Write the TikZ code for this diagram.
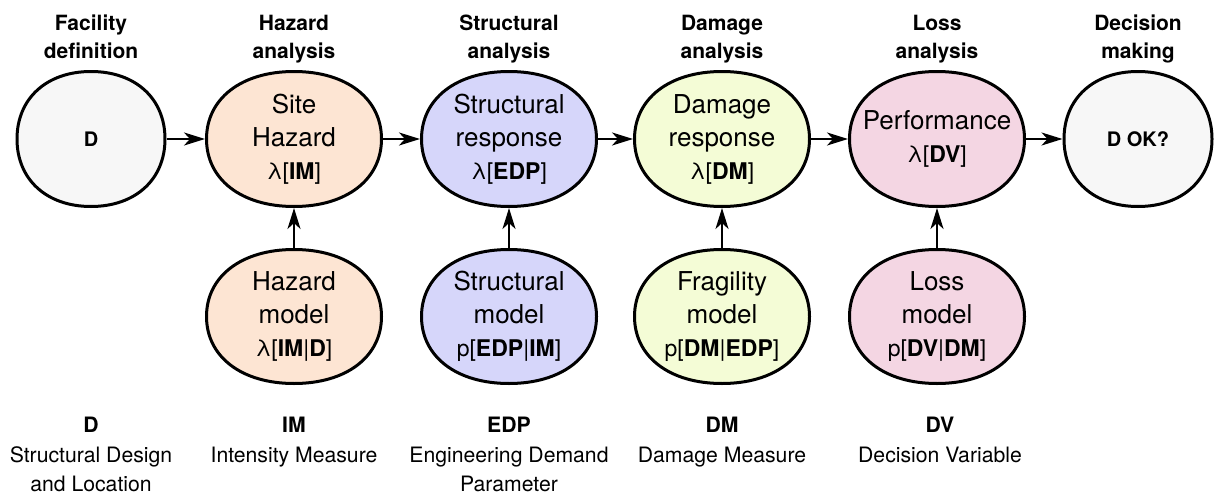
\documentclass[tikz,border=0pt]{standalone}
\usepackage{fontspec}
\setmainfont{TeX Gyre Heros}
\usetikzlibrary{arrows.meta,calc,backgrounds}
\definecolor{grayfill}{RGB}{247,247,247}
\definecolor{hazfill}{RGB}{253,229,211}
\definecolor{strfill}{RGB}{214,214,250}
\definecolor{dmgfill}{RGB}{244,252,214}
\definecolor{lossfill}{RGB}{244,214,227}
\newcommand\fml[1]{{\fontsize{23}{33}\selectfont #1}}
\newcommand\bk{0.6}
% rounded (superellipse-like) outline through the four side midpoints of a node
\newcommand\blob[2]{%
  \draw[blobline, fill=#2]
  (#1.east) .. controls ($(#1.east)!\bk!(#1.north east)$) and ($(#1.north)!\bk!(#1.north east)$) .. (#1.north)
  .. controls ($(#1.north)!\bk!(#1.north west)$) and ($(#1.west)!\bk!(#1.north west)$) .. (#1.west)
  .. controls ($(#1.west)!\bk!(#1.south west)$) and ($(#1.south)!\bk!(#1.south west)$) .. (#1.south)
  .. controls ($(#1.south)!\bk!(#1.south east)$) and ($(#1.east)!\bk!(#1.south east)$) .. (#1.east) -- cycle;}
\begin{document}
\begin{tikzpicture}[x=1pt,y=-1pt,
  blobline/.style={draw=black, line width=3pt, line join=round},
  stage/.style={rectangle, inner sep=0pt, outer sep=0pt, align=center,
    font=\fontsize{26}{33}\selectfont},
  topnode/.style={stage, minimum width=175pt, minimum height=135pt},
  botnode/.style={stage, minimum width=175pt, minimum height=134pt},
  termnode/.style={stage, minimum width=148pt, minimum height=135pt,
    font=\bfseries\fontsize{20}{24}\selectfont},
  head/.style={anchor=north, inner sep=0pt, align=center, font=\bfseries\fontsize{21}{27.5}\selectfont},
  legend/.style={anchor=north, inner sep=0pt, align=center, font=\fontsize{21.2}{29.5}\selectfont},
  flow/.style={line width=2.4pt, shorten >=1.5pt, shorten <=1.5pt,
    -{Stealth[length=21pt,width=13pt,inset=6pt]}},
]
\useasboundingbox (0,0) rectangle (1215,495);

% headers
\node[head] (h1) at (91,15) {Facility\\definition};
\node[head] (h2) at (294,15) {Hazard\\analysis};
\node[head] (h3) at (509,15) {Structural\\analysis};
\node[head] (h4) at (722,15) {Damage\\analysis};
\node[head] (h5) at (937,15) {Loss\\analysis};
\node[head] (h6) at (1138,15) {Decision\\making};

% top row
\node[termnode] (fd) at (91,139) {D};
\node[topnode] (sh) at (294,139) {Site\\Hazard\\\fml{λ[\textbf{IM}]}};
\node[topnode] (sr) at (509,139) {Structural\\response\\\fml{λ[\textbf{EDP}]}};
\node[topnode] (dr) at (722,139) {Damage\\response\\\fml{λ[\textbf{DM}]}};
\node[topnode] (pf) at (937,139) {Performance\\\fml{λ[\textbf{DV}]}};
\node[termnode] (ok) at (1138,139) {D OK?};

% bottom row
\node[botnode] (hm) at (294,316.5) {Hazard\\model\\\fml{λ[\textbf{IM}|\textbf{D}]}};
\node[botnode] (sm) at (509,316.5) {Structural\\model\\\fml{p[\textbf{EDP}|\textbf{IM}]}};
\node[botnode] (fm) at (722,316.5) {Fragility\\model\\\fml{p[\textbf{DM}|\textbf{EDP}]}};
\node[botnode] (lm) at (937,316.5) {Loss\\model\\\fml{p[\textbf{DV}|\textbf{DM}]}};

% outlines behind the texts
\begin{scope}[on background layer]
  \blob{fd}{grayfill}
  \blob{sh}{hazfill}
  \blob{sr}{strfill}
  \blob{dr}{dmgfill}
  \blob{pf}{lossfill}
  \blob{ok}{grayfill}
  \blob{hm}{hazfill}
  \blob{sm}{strfill}
  \blob{fm}{dmgfill}
  \blob{lm}{lossfill}
\end{scope}

% connectors
\draw[flow] (fd) -- (sh);
\draw[flow] (sh) -- (sr);
\draw[flow] (sr) -- (dr);
\draw[flow] (dr) -- (pf);
\draw[flow] (pf) -- (ok);
\draw[flow] (hm) -- (sh);
\draw[flow] (sm) -- (sr);
\draw[flow] (fm) -- (dr);
\draw[flow] (lm) -- (pf);

% legend
\node[legend] (l1) at (91,417) {\textbf{D}\\Structural Design\\and Location};
\node[legend] (l2) at (294,417) {\textbf{IM}\\Intensity Measure};
\node[legend] (l3) at (509,417) {\textbf{EDP}\\Engineering Demand\\Parameter};
\node[legend] (l4) at (722,417) {\textbf{DM}\\Damage Measure};
\node[legend] (l5) at (940,417) {\textbf{DV}\\Decision Variable};
\end{tikzpicture}
\end{document}
